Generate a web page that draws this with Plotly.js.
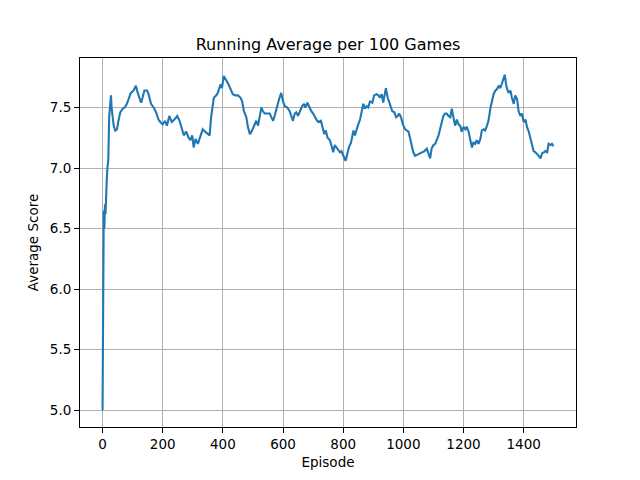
<!DOCTYPE html>
<html>
<head>
<meta charset="utf-8">
<script src="https://cdn.plot.ly/plotly-3.0.1.min.js"></script>
<style>html,body{margin:0;padding:0;background:#fff;}#chart{width:640px;height:480px;}</style>
</head>
<body>
<div id="chart"></div>
<script>
const chartTitle = "Running Average per 100 Games";
const xLabel = "Episode";
const yLabel = "Average Score";
const xTickVals = [0, 200, 400, 600, 800, 1000, 1200, 1400];
const yTickVals = [5.0, 5.5, 6.0, 6.5, 7.0, 7.5];

const episodes = [0,2,3,4,6,8,10,12,14,16,19,22,25,28,30,33,37,42,48,52,59,67,74,81,89,94,103,111,117,122,128,133,139,148,153,161,170,178,186,192,200,208,214,222,230,239,248,256,263,270,278,286,292,298,303,309,317,326,333,341,350,356,361,370,378,383,392,397,403,411,419,426,433,441,450,459,464,470,478,483,490,497,503,511,517,522,528,533,539,548,556,561,567,572,580,587,594,600,606,614,622,628,633,639,644,650,656,663,670,674,681,687,694,700,706,711,717,726,730,737,742,748,756,761,767,772,781,789,794,800,808,814,819,826,830,834,839,844,850,856,861,867,872,878,883,889,897,903,911,917,922,928,933,939,942,948,953,959,963,970,976,981,986,992,1000,1006,1011,1017,1022,1028,1033,1039,1048,1056,1063,1070,1078,1083,1089,1094,1100,1106,1111,1117,1122,1128,1133,1139,1144,1150,1156,1161,1167,1172,1178,1183,1189,1194,1200,1206,1211,1217,1222,1228,1233,1239,1244,1250,1256,1261,1267,1272,1278,1283,1289,1294,1300,1306,1311,1317,1322,1328,1333,1337,1341,1344,1350,1356,1361,1367,1372,1378,1383,1389,1394,1400,1406,1411,1417,1422,1428,1433,1439,1444,1450,1456,1461,1467,1472,1478,1483,1489,1494,1499];
const avgScore = [5.0,6.6,6.45,6.65,6.5,6.7,6.62,6.85,6.9,7.0,7.06,7.42,7.5,7.6,7.5,7.42,7.35,7.31,7.32,7.38,7.46,7.49,7.5,7.53,7.58,7.62,7.64,7.68,7.62,7.58,7.54,7.58,7.64,7.64,7.61,7.53,7.5,7.46,7.4,7.38,7.36,7.39,7.35,7.43,7.38,7.4,7.43,7.39,7.32,7.27,7.3,7.25,7.23,7.27,7.17,7.24,7.2,7.28,7.32,7.3,7.28,7.27,7.42,7.58,7.6,7.62,7.69,7.66,7.76,7.73,7.69,7.65,7.61,7.6,7.6,7.58,7.55,7.47,7.42,7.34,7.28,7.31,7.35,7.39,7.35,7.42,7.5,7.47,7.45,7.45,7.45,7.42,7.39,7.43,7.51,7.57,7.62,7.55,7.51,7.5,7.47,7.42,7.39,7.45,7.46,7.43,7.47,7.51,7.53,7.5,7.54,7.5,7.47,7.45,7.42,7.4,7.38,7.39,7.35,7.28,7.31,7.25,7.23,7.19,7.13,7.19,7.16,7.13,7.14,7.1,7.06,7.12,7.17,7.21,7.27,7.31,7.27,7.32,7.36,7.4,7.47,7.53,7.49,7.51,7.5,7.55,7.54,7.6,7.61,7.6,7.58,7.61,7.54,7.62,7.66,7.58,7.54,7.5,7.47,7.46,7.42,7.43,7.45,7.42,7.35,7.32,7.31,7.3,7.25,7.19,7.13,7.1,7.11,7.12,7.13,7.14,7.16,7.13,7.08,7.16,7.19,7.2,7.23,7.27,7.32,7.39,7.43,7.45,7.45,7.43,7.42,7.49,7.4,7.35,7.4,7.36,7.35,7.3,7.34,7.32,7.34,7.3,7.24,7.17,7.21,7.2,7.23,7.2,7.24,7.31,7.32,7.31,7.35,7.39,7.49,7.55,7.61,7.64,7.65,7.68,7.66,7.7,7.73,7.77,7.7,7.66,7.62,7.64,7.58,7.53,7.6,7.57,7.47,7.43,7.45,7.38,7.4,7.34,7.3,7.25,7.19,7.14,7.13,7.12,7.1,7.08,7.12,7.13,7.14,7.13,7.2,7.19,7.2,7.18];

const trace = {
  x: episodes,
  y: avgScore,
  type: 'scatter',
  mode: 'lines',
  line: {color: '#1f77b4', width: 2.1},
  hoverinfo: 'skip'
};

const font = {family: 'DejaVu Sans, sans-serif', size: 13.5, color: '#000'};

const layout = {
  width: 640, height: 480,
  paper_bgcolor: '#fff', plot_bgcolor: '#fff',
  margin: {l: 80, r: 64, t: 58, b: 53, pad: 0},
  showlegend: false,
  font: font,
  title: {text: chartTitle, font: {family: 'DejaVu Sans, sans-serif', size: 16, color: '#000'}, x: 0.5, xanchor: 'center', xref: 'paper', y: 1 - 44/480, yanchor: 'middle', yref: 'container'},
  xaxis: {
    range: [-74.95, 1573.95],
    tickvals: xTickVals,
    ticktext: xTickVals.map(String),
    ticks: 'outside', ticklen: 5, tickwidth: 1, tickcolor: '#000',
    showgrid: true, gridcolor: '#b0b0b0', gridwidth: 1,
    zeroline: false,
    showline: true, linecolor: '#000', linewidth: 1, mirror: true,
    tickfont: font,
    title: {text: xLabel, font: font, standoff: 6},
    automargin: false
  },
  yaxis: {
    range: [4.8615, 7.9085],
    tickvals: yTickVals,
    ticktext: yTickVals.map(v => v.toFixed(1)),
    ticks: 'outside', ticklen: 5, tickwidth: 1, tickcolor: '#000',
    showgrid: true, gridcolor: '#b0b0b0', gridwidth: 1,
    zeroline: false,
    showline: true, linecolor: '#000', linewidth: 1, mirror: true,
    tickfont: font,
    title: {text: yLabel, font: font, standoff: 8},
    automargin: false
  }
};

Plotly.newPlot('chart', [trace], layout, {staticPlot: true, displayModeBar: false});
</script>
</body>
</html>
